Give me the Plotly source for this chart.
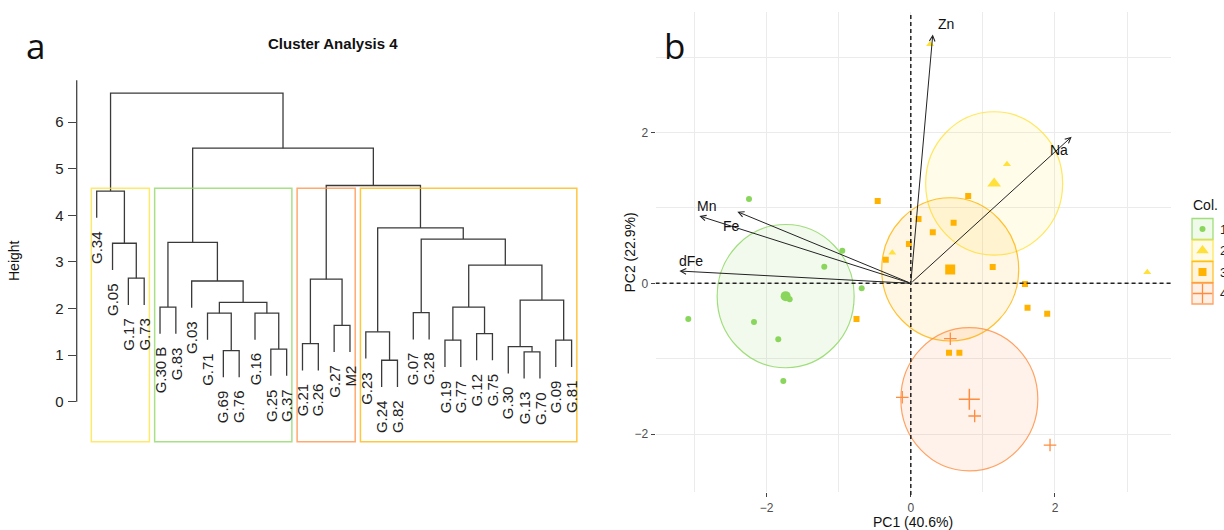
import plotly.graph_objects as go

W, H = 1224, 530

# ---------------- Data: dendrogram ----------------
leaf_labels = ["G.34", "G.05", "G.17", "G.73", "G.30 B", "G.83", "G.03", "G.71", "G.69",
               "G.76", "G.16", "G.25", "G.37", "G.21", "G.26", "G.27", "M2", "G.23",
               "G.24", "G.82", "G.07", "G.28", "G.19", "G.77", "G.12", "G.75", "G.30",
               "G.13", "G.70", "G.09", "G.81"]
# merges: strings are leaves, ints refer to earlier merges (0-based)
merge_left = ["G.24", "G.13", "G.69", "G.25", "G.30", "G.21", "G.19", "G.09", "G.12", "G.23",
              "G.27", "G.71", "G.16", "G.07", 6, "G.30 B", 11, 4, "G.03", 5,
              "G.17", 14, "G.05", 15, 13, 9, "G.34", 19, 23, 26]
merge_right = ["G.82", "G.70", "G.76", "G.37", 1, "G.26", "G.77", "G.81", "G.75", 0,
               "M2", 2, 3, "G.28", 8, "G.83", 12, 7, 16, 10,
               "G.73", 17, 20, 18, 21, 24, 22, 25, 27, 28]
merge_height = [0.89, 1.07, 1.095, 1.13, 1.18, 1.245, 1.32, 1.32, 1.46, 1.50,
                1.64, 1.90, 1.90, 1.91, 2.03, 2.03, 2.13, 2.18, 2.59, 2.63,
                2.65, 2.93, 3.40, 3.42, 3.49, 3.73, 4.52, 4.64, 5.44, 6.62]
height_ticks = [0, 1, 2, 3, 4, 5, 6]
n_clusters = 4
cluster_group = [2, 1, 4, 3]   # PCA group colour of each dendrogram cluster (left to right)

# ---------------- Data: PCA ----------------
g1_pc1 = [-2.244, -0.950, -1.200, -0.681, -3.086, -2.175, -1.838, -1.768, -1.68]
g1_pc2 = [1.118, 0.432, 0.220, -0.066, -0.473, -0.513, -0.743, -1.296, -0.21]
g2_pc1 = [0.268, 1.334, -0.257, 3.28]
g2_pc2 = [3.17, 1.578, 0.406, 0.146]
g3_pc1 = [-0.459, 0.796, 0.107, 0.594, 0.305, -0.026, -0.347, 1.136, 1.584, 1.619, 1.892,
          -0.753, 0.530, 0.674]
g3_pc2 = [1.092, 1.158, 0.853, 0.804, 0.676, 0.521, 0.313, 0.216, -0.009, -0.323, -0.403,
          -0.473, -0.920, -0.920]
g4_pc1 = [0.548, -0.118, 0.886, 1.931]
g4_pc2 = [-0.735, -1.512, -1.760, -2.145]
group_names = ["1", "2", "3", "4"]
var_names = ["Zn", "Na", "Mn", "Fe", "dFe"]
var_pc1 = [0.305, 2.231, -2.933, -2.406, -3.21]
var_pc2 = [3.30, 1.944, 0.893, 0.95, 0.163]
ellipse_radius = 0.95
pc_ticks = [-2, 0, 2]

# ---------------- Styles ----------------
colors = {1: (138, 214, 92), 2: (255, 225, 58), 3: (255, 179, 0), 4: (255, 140, 63)}
symbols = {1: "circle", 2: "triangle-up", 3: "square", 4: "cross-thin-open"}
sizes = {1: 6, 2: 7, 3: 6, 4: 9}
csizes = {1: 10, 2: 12, 3: 10, 4: 15}
label_shift = {"Zn": (13, 10), "Na": (-13, -13), "Mn": (7, 10), "Fe": (-6, -14), "dFe": (12, 10)}
FONT = "Liberation Sans, Arial, sans-serif"


def rgba(c, a):
    return "rgba(%d,%d,%d,%.3f)" % (c[0], c[1], c[2], a)


def px_x(p):
    return p / W


def px_y(p):
    return 1 - p / H


fig = go.Figure()

# ---------- Dendrogram ----------
leaf_x = {lab: i + 1 for i, lab in enumerate(leaf_labels)}
hang = 0.1 * (max(merge_height) - min(merge_height))
node_x, node_h = [], []
leaf_bottom = {}
seg_x, seg_y = [], []


def child_info(c, h):
    if isinstance(c, str):
        leaf_bottom[c] = h - hang
        return leaf_x[c], h - hang
    return node_x[c], node_h[c]


for a, b, h in zip(merge_left, merge_right, merge_height):
    xa, ya = child_info(a, h)
    xb, yb = child_info(b, h)
    seg_x += [xa, xa, xb, xb, None]
    seg_y += [ya, h, h, yb, None]
    node_x.append((xa + xb) / 2)
    node_h.append(h)

fig.add_trace(go.Scatter(x=seg_x, y=seg_y, mode="lines", xaxis="x", yaxis="y",
                         line=dict(color="#3a3a3a", width=1.3), hoverinfo="skip",
                         showlegend=False))

annotations = []
for lab in leaf_labels:
    annotations.append(dict(x=leaf_x[lab], y=leaf_bottom[lab], xref="x", yref="y",
                            text=lab, showarrow=False, textangle=-90,
                            xanchor="center", yanchor="top", yshift=-11,
                            font=dict(family=FONT, size=15, color="#222222")))

# clusters (cut tree in k groups)
sorted_h = sorted(merge_height, reverse=True)
cut_h = (sorted_h[n_clusters - 2] + sorted_h[n_clusters - 1]) / 2


def leaves_of(c):
    if isinstance(c, str):
        return [c]
    return leaves_of(merge_left[c]) + leaves_of(merge_right[c])


def find_roots(c):
    h = 0 if isinstance(c, str) else merge_height[c]
    if h < cut_h:
        return [c]
    return find_roots(merge_left[c]) + find_roots(merge_right[c])


roots = find_roots(len(merge_height) - 1)
shapes = []
box_bottom = -0.86
start = 0
for r, g in zip(roots, cluster_group):
    cnt = len(leaves_of(r))
    shapes.append(dict(type="rect", xref="x", yref="y", x0=start + 0.66, x1=start + cnt + 0.33,
                       y0=box_bottom, y1=cut_h, line=dict(color=rgba(colors[g], 0.75), width=1.5),
                       fillcolor="rgba(0,0,0,0)"))
    start += cnt

# y axis line of dendrogram
dx_left_px, dx_right_px = 76.7, 587.4
shapes.append(dict(type="line", xref="paper", yref="y", x0=px_x(dx_left_px), x1=px_x(dx_left_px),
                   y0=0, y1=6.9, line=dict(color="#444444", width=1.3)))

# ---------- PCA biplot ----------
groups = {1: (g1_pc1, g1_pc2), 2: (g2_pc1, g2_pc2), 3: (g3_pc1, g3_pc2), 4: (g4_pc1, g4_pc2)}
for g, (xs, ys) in groups.items():
    cx = sum(xs) / len(xs)
    cy = sum(ys) / len(ys)
    shapes.append(dict(type="circle", xref="x2", yref="y2", x0=cx - ellipse_radius,
                       x1=cx + ellipse_radius, y0=cy - ellipse_radius, y1=cy + ellipse_radius,
                       fillcolor=rgba(colors[g], 0.11), line=dict(color=rgba(colors[g], 0.8), width=1.2),
                       layer="between"))
for g, (xs, ys) in groups.items():
    cx = sum(xs) / len(xs)
    cy = sum(ys) / len(ys)
    col = rgba(colors[g], 1)
    mk = dict(symbol=symbols[g], size=sizes[g], color=col, line=dict(color=col, width=1.3 if g == 4 else 0))
    fig.add_trace(go.Scatter(x=xs, y=ys, mode="markers", xaxis="x2", yaxis="y2", marker=mk,
                             showlegend=False, name=group_names[g - 1]))
    mkc = dict(symbol=symbols[g], size=csizes[g], color=col, line=dict(color=col, width=1.5 if g == 4 else 0))
    fig.add_trace(go.Scatter(x=[cx], y=[cy], mode="markers", xaxis="x2", yaxis="y2", marker=mkc,
                             showlegend=False))

# dashed zero lines
pcx_range = [-3.54, 3.61]
pcy_range = [-2.77, 3.6]
shapes.append(dict(type="line", xref="x2", yref="paper", x0=0, x1=0, y0=px_y(495), y1=px_y(12),
                   line=dict(color="#222222", width=1.5, dash="4px,3px"), layer="above"))
shapes.append(dict(type="line", xref="x2", yref="y2", x0=pcx_range[0], x1=pcx_range[1], y0=0, y1=0,
                   line=dict(color="#222222", width=1.5, dash="4px,3px"), layer="above"))

# variable arrows & labels
for name, vx, vy in zip(var_names, var_pc1, var_pc2):
    annotations.append(dict(x=vx, y=vy, ax=0, ay=0, xref="x2", yref="y2", axref="x2", ayref="y2",
                            text="", showarrow=True, arrowhead=5, arrowsize=1.1, arrowwidth=1,
                            arrowcolor="#222222", standoff=0))
    sx, sy = label_shift[name]
    annotations.append(dict(x=vx, y=vy, xref="x2", yref="y2", text=name, showarrow=False,
                            xanchor="center", yanchor="middle",
                            xshift=sx, yshift=sy, font=dict(family=FONT, size=14, color="#111111")))

# ---------- legend (drawn in a pixel overlay) ----------
leg_x0, leg_top, leg_step, leg_box = 1192, 218.5, 21.5, 21
leg_marker_size = {1: 6, 2: 11, 3: 8, 4: 14}
for i, g in enumerate([1, 2, 3, 4]):
    y0 = leg_top + i * leg_step
    shapes.append(dict(type="rect", xref="x3", yref="y3", x0=leg_x0, x1=leg_x0 + leg_box,
                       y0=y0, y1=y0 + leg_box, fillcolor=rgba(colors[g], 0.13),
                       line=dict(color=rgba(colors[g], 0.8), width=1.3)))
    col = rgba(colors[g], 1)
    fig.add_trace(go.Scatter(x=[leg_x0 + leg_box / 2], y=[y0 + leg_box / 2], mode="markers",
                             xaxis="x3", yaxis="y3", showlegend=False, hoverinfo="skip",
                             marker=dict(symbol=symbols[g], size=leg_marker_size[g], color=col,
                                         line=dict(color=col, width=1.3 if g == 4 else 0))))
    annotations.append(dict(x=px_x(1218), y=px_y(y0 + leg_box / 2), xref="paper", yref="paper",
                            text=group_names[g - 1], showarrow=False, xanchor="left", yanchor="middle",
                            font=dict(family=FONT, size=13, color="#222222")))
annotations.append(dict(x=px_x(1191), y=px_y(205), xref="paper", yref="paper", text="Col.",
                        showarrow=False, xanchor="left", yanchor="middle",
                        font=dict(family=FONT, size=14, color="#111111")))


# ---------- titles, panel letters ----------
def cmid(x, y, text, size, family=FONT, angle=0):
    return dict(x=px_x(x), y=px_y(y), xref="paper", yref="paper", text=text, textangle=angle,
                showarrow=False, xanchor="center", yanchor="middle",
                font=dict(family=family, size=size, color="#111111"))


annotations += [
    cmid(333, 44, "<b>Cluster Analysis 4</b>", 15),
    cmid(14, 260, "Height", 14, angle=-90),
    cmid(35, 46, "a", 35, family="Open Sans, sans-serif"),
    cmid(674, 46, "b", 35, family="Open Sans, sans-serif"),
    cmid(913.4, 521.5, "PC1 (40.6%)", 14),
    cmid(629.5, 252, "PC2 (22.9%)", 14, angle=-90),
]

# axis geometry (pixels -> domains)
x_per = 15.83
x_off = 80.87
d_y0, y_per = 401.7, 46.6
dy_range = [-1.2, 7.0]
pc_x0, pc_xper = 910.8, 72.1
pc_y0, pc_yper = 283.3, 75.4

fig.update_layout(
    width=W, height=H,
    margin=dict(l=0, r=0, t=0, b=0, autoexpand=False),
    paper_bgcolor="white", plot_bgcolor="rgba(0,0,0,0)",
    showlegend=False,
    shapes=shapes, annotations=annotations,
    xaxis=dict(domain=[px_x(dx_left_px), px_x(dx_right_px)],
               range=[(dx_left_px - x_off) / x_per, (dx_right_px - x_off) / x_per],
               visible=False, anchor="y"),
    yaxis=dict(domain=[px_y(d_y0 - dy_range[0] * y_per), px_y(d_y0 - dy_range[1] * y_per)],
               range=dy_range, anchor="x", tickvals=height_ticks, ticks="outside", ticklen=8,
               tickwidth=1.2, tickcolor="#444444", showline=False, showgrid=False, zeroline=False,
               ticklabelstandoff=1, tickfont=dict(family=FONT, size=15, color="#222222")),
    xaxis2=dict(domain=[px_x(pc_x0 + pcx_range[0] * pc_xper), px_x(pc_x0 + pcx_range[1] * pc_xper)],
                range=pcx_range, anchor="y2", tickvals=pc_ticks, ticks="outside", ticklen=4,
                tickcolor="#444444", showgrid=True, gridcolor="#EBEBEB", gridwidth=1.2,
                zeroline=False, showline=False,
                minor=dict(dtick=1, showgrid=True, gridcolor="#EBEBEB", gridwidth=1.2),
                tickfont=dict(family=FONT, size=12, color="#4D4D4D")),
    yaxis2=dict(domain=[px_y(pc_y0 - pcy_range[0] * pc_yper), px_y(pc_y0 - pcy_range[1] * pc_yper)],
                range=pcy_range, anchor="x2", tickvals=pc_ticks, ticks="outside", ticklen=4,
                tickcolor="#444444", showgrid=True, gridcolor="#EBEBEB", gridwidth=1.2,
                zeroline=False, showline=False,
                minor=dict(dtick=1, showgrid=True, gridcolor="#EBEBEB", gridwidth=1.2),
                tickfont=dict(family=FONT, size=12, color="#4D4D4D")),
    xaxis3=dict(domain=[0, 1], range=[0, W], visible=False, anchor="y3", fixedrange=True),
    yaxis3=dict(domain=[0, 1], range=[H, 0], visible=False, anchor="x3", fixedrange=True),
)

fig.write_html("out.html", config={"displayModeBar": False},
               post_script="document.body.style.margin='0';document.body.style.overflow='hidden';")
